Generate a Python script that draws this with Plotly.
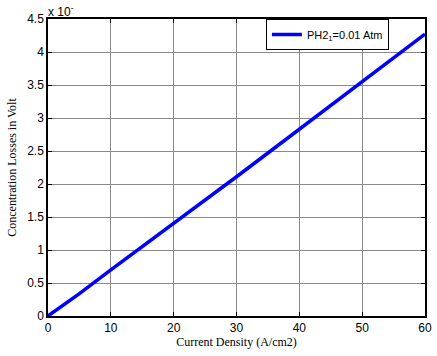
import plotly.graph_objects as go

current_density = [0, 5, 10, 15, 20, 25, 30, 35, 40, 45, 50, 55, 60]
conc_losses = [0, 0.34, 0.70, 1.05, 1.41, 1.76, 2.11, 2.47, 2.83, 3.19, 3.55, 3.91, 4.27]
series_name = "PH2<sub>1</sub>=0.01 Atm"

fig = go.Figure()
fig.add_trace(go.Scatter(x=current_density, y=conc_losses, mode="lines",
                         name=series_name, line=dict(color="#0000ff", width=3.5)))

axis_common = dict(showline=True, linecolor="black", linewidth=1.5, mirror="ticks",
                   ticks="inside", ticklen=4, tickcolor="black",
                   showgrid=True, gridcolor="#8a8a8a", gridwidth=1, zeroline=False,
                   tickfont=dict(family="Liberation Sans, Arial", size=12, color="black"))

fig.update_xaxes(range=[0, 60], dtick=10, tick0=0,
                 title=dict(text="Current Density (A/cm2)", standoff=3,
                            font=dict(family="Liberation Serif, Times New Roman", size=12, color="black")),
                 **axis_common)
fig.update_yaxes(range=[0, 4.5], dtick=0.5, tick0=0,
                 title=dict(text="Concentration Losses in Volt", standoff=8,
                            font=dict(family="Liberation Serif, Times New Roman", size=12, color="black")),
                 **axis_common)

fig.add_annotation(text="x 10<sup>-</sup>", xref="paper", yref="paper", x=0.0, y=1.0,
                   xanchor="left", yanchor="bottom", showarrow=False, xshift=-2, yshift=-2,
                   font=dict(family="Liberation Sans, Arial", size=12, color="black"))

fig.update_layout(
    width=437, height=356,
    margin=dict(l=48, r=5, t=19, b=40),
    plot_bgcolor="white", paper_bgcolor="white",
    showlegend=True,
    legend=dict(x=0.578, y=1.0, xanchor="left", yanchor="top",
                bordercolor="black", borderwidth=1, bgcolor="white",
                font=dict(family="Liberation Sans, Arial", size=11, color="black"),
                itemwidth=30, tracegroupgap=0),
)

fig.write_html("out.html")
